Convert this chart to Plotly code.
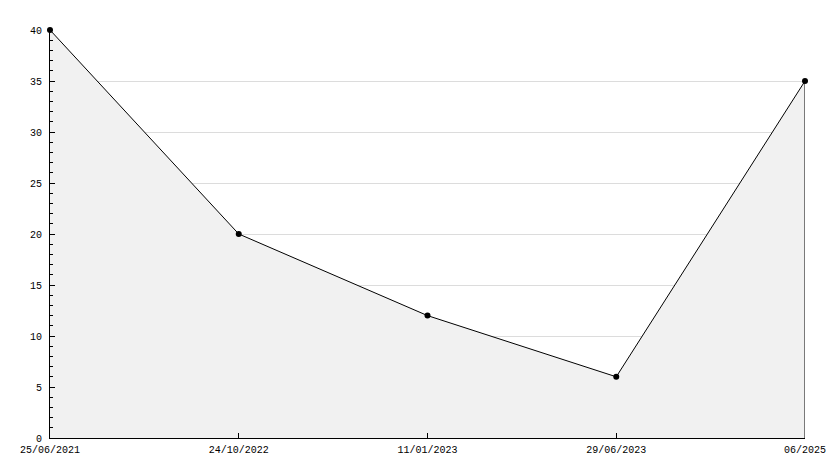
import plotly.graph_objects as go

dates = ["25/06/2021", "24/10/2022", "11/01/2023", "29/06/2023", "06/2025"]
values = [40, 20, 12, 6, 35]
y_ticks = [0, 5, 10, 15, 20, 25, 30, 35, 40]

xs = list(range(len(dates)))

fig = go.Figure()
fig.add_trace(go.Scatter(
    x=xs, y=values, mode="lines+markers",
    fill="tozeroy", fillcolor="#f1f1f1",
    line=dict(color="black", width=1),
    marker=dict(color="black", size=6, symbol="circle"),
    cliponaxis=False,
    hoverinfo="skip", showlegend=False,
))
# closing edge of the filled area at the last point
fig.add_trace(go.Scatter(
    x=[xs[-1], xs[-1]], y=[values[-1], 0], mode="lines",
    line=dict(color="black", width=1), hoverinfo="skip", showlegend=False,
))

font = dict(family="Liberation Mono", size=10, color="black")
fig.update_layout(
    width=834, height=468,
    margin=dict(l=50, r=29, t=30, b=30),
    paper_bgcolor="white", plot_bgcolor="white",
    font=font,
    xaxis=dict(
        range=[xs[0], xs[-1]], tickvals=xs, ticktext=dates,
        showgrid=False, zeroline=False, automargin=False,
        showline=True, linecolor="black", linewidth=1,
        ticks="inside", ticklen=5, tickcolor="black",
        tickfont=font, ticklabelstandoff=2,
    ),
    yaxis=dict(
        range=[0, 40], tickvals=y_ticks, automargin=False,
        showgrid=True, gridcolor="#dcdcdc", gridwidth=1,
        zeroline=False,
        showline=True, linecolor="black", linewidth=1,
        ticks="inside", ticklen=5, tickcolor="black",
        tickfont=font, ticklabelstandoff=5,
        minor=dict(ticks="inside", dtick=1, ticklen=3, tickcolor="black", showgrid=False),
    ),
)

fig.write_html("out.html", config={"displayModeBar": False},
               post_script="document.body.style.margin='0';")
